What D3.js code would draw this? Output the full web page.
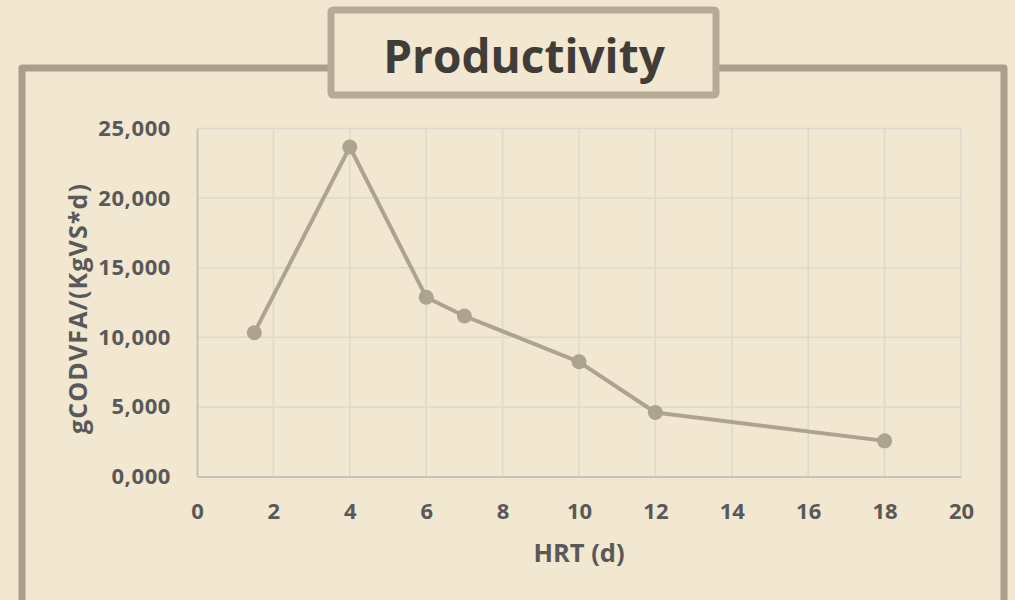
<!DOCTYPE html>
<html>
<head>
<meta charset="utf-8">
<script src="https://cdn.jsdelivr.net/npm/d3@7"></script>
<style>
  html, body { margin: 0; padding: 0; background: #f2e7d0; }
  svg { display: block; }
  text { font-family: "Open Sans", "Noto Sans", sans-serif; font-weight: 700; }
</style>
</head>
<body>
<svg id="chart" width="1015" height="600"></svg>
<script>
// Hydraulic retention time (days) and VFA productivity
const hrtDays = [1.5, 4, 6, 7, 10, 12, 18];
const productivity = [10330, 23670, 12880, 11530, 8240, 4600, 2560];
const xTicks = [0, 2, 4, 6, 8, 10, 12, 14, 16, 18, 20];
const yTicks = [0, 5000, 10000, 15000, 20000, 25000];

const titleText = "Productivity";
const xTitle = "HRT (d)";
const yTitle = "gCODVFA/(KgVS*d)";

const W = 1015, H = 600;
const svg = d3.select("#chart");

svg.append("rect").attr("width", W).attr("height", H).attr("fill", "#f2e7d0");

// outer frame
svg.append("path")
  .attr("d", `M22,${H + 10} V68 H1004 V${H + 10}`)
  .attr("fill", "none")
  .attr("stroke", "#ab9f8b")
  .attr("stroke-width", 7)
  .attr("stroke-linejoin", "round");

// title box
svg.append("rect")
  .attr("x", 331).attr("y", 10).attr("width", 385).attr("height", 85)
  .attr("fill", "#f2e7d0")
  .attr("stroke", "#b6ab97")
  .attr("stroke-width", 7)
  .attr("rx", 2);

svg.append("text")
  .attr("x", 524).attr("y", 73)
  .attr("text-anchor", "middle")
  .attr("font-size", 46)
  .attr("fill", "#403d38")
  .text(titleText);

const x = d3.scaleLinear().domain([0, 20]).range([197, 961]);
const y = d3.scaleLinear().domain([0, 25000]).range([476.5, 128.5]);

const yFmt = d => {
  const th = Math.floor(d / 1000), rest = d % 1000;
  return th + "," + String(rest).padStart(3, "0");
};

// gridlines
svg.append("g").selectAll("line").data(yTicks.filter(d => d > 0)).join("line")
  .attr("x1", x(0)).attr("x2", x(20))
  .attr("y1", d => y(d)).attr("y2", d => y(d))
  .attr("stroke", "#dcd8d0").attr("stroke-width", 1.5);

svg.append("g").selectAll("line").data(xTicks.filter(d => d > 0)).join("line")
  .attr("x1", d => x(d)).attr("x2", d => x(d))
  .attr("y1", y(0)).attr("y2", y(25000))
  .attr("stroke", "#dcd8d0").attr("stroke-width", 1.5);

// axes
const xAxis = svg.append("g")
  .attr("transform", `translate(0,${y(0)})`)
  .call(d3.axisBottom(x).tickValues(xTicks).tickSize(0).tickPadding(27).tickFormat(d3.format("d")));
xAxis.select(".domain").attr("stroke", "#c5c2bb").attr("stroke-width", 2);
xAxis.selectAll("text").attr("font-size", 22).attr("fill", "#595959")
  .attr("font-family", "\"Open Sans\", sans-serif").attr("font-weight", 700);

const yAxis = svg.append("g")
  .attr("transform", `translate(${x(0)},0)`)
  .call(d3.axisLeft(y).tickValues(yTicks).tickSize(0).tickPadding(26).tickFormat(yFmt));
yAxis.select(".domain").attr("stroke", "#c5c2bb").attr("stroke-width", 2);
yAxis.selectAll("text").attr("font-size", 22).attr("fill", "#595959")
  .attr("font-family", "\"Open Sans\", sans-serif").attr("font-weight", 700)
  .attr("letter-spacing", 0.6);

// axis titles
svg.append("text")
  .attr("x", 579).attr("y", 562)
  .attr("text-anchor", "middle")
  .attr("font-size", 25.5)
  .attr("fill", "#595959")
  .text(xTitle);

svg.append("text")
  .attr("transform", `translate(87,309) rotate(-90)`)
  .attr("text-anchor", "middle")
  .attr("font-size", 25)
  .attr("fill", "#595959")
  .attr("textLength", 250)
  .attr("lengthAdjust", "spacing")
  .text(yTitle);

// series line and markers
const line = d3.line().x((d, i) => x(hrtDays[i])).y(d => y(d));
svg.append("path")
  .datum(productivity)
  .attr("d", line)
  .attr("fill", "none")
  .attr("stroke", "#aea38f")
  .attr("stroke-width", 4)
  .attr("stroke-linejoin", "round");

svg.append("g").selectAll("circle").data(productivity).join("circle")
  .attr("cx", (d, i) => x(hrtDays[i]))
  .attr("cy", d => y(d))
  .attr("r", 7.5)
  .attr("fill", "#aea38f");
</script>
</body>
</html>
